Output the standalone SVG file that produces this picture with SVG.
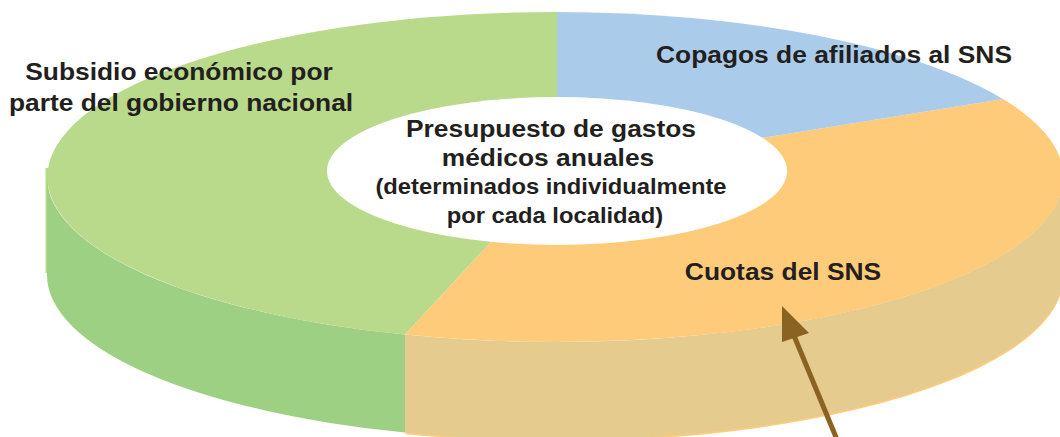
<svg xmlns="http://www.w3.org/2000/svg" width="1060" height="437" viewBox="0 0 1060 437">
  <style>
    .lbl { font-family: "Liberation Sans", Arial, Helvetica, sans-serif; font-weight: bold; fill: #231f20; text-anchor: middle; }
    .big { font-size: 24.2px; }
    .small { font-size: 21.8px; }
  </style>
  <rect width="1060" height="437" fill="#ffffff"/>

  <g id="slice-subsidio">
    <rect x="45.5" y="168" width="3" height="105" fill="#b9d98b"/>
    <path d="M47,177 L47,275 A508,165 0 0 0 405,432.6 L405,334.6 A508,165 0 0 1 47,177 Z" fill="#9dd083"/>
    <path d="M557,171 L557,12 A508,165 0 0 0 405,334.6 Z" fill="#b9d98b"/>
  </g>

  <g id="slice-cuotas">
    <path d="M405,334.6 L405,432.6 A508,165 0 0 0 1063,275 L1063,177 A508,165 0 0 1 405,334.6 Z" fill="#fecb7a" transform="translate(0.6,1.6)"/>
    <path d="M405,334.6 L405,432.6 A508,165 0 0 0 1063,275 L1063,177 A508,165 0 0 1 405,334.6 Z" fill="#e5cb8d"/>
    <path d="M557,171 L1003,99 A508,165 0 0 1 405,334.6 Z" fill="#fecb7a"/>
  </g>

  <g id="slice-copagos">
    <path d="M557,171 L557,12 A508,165 0 0 1 1003,99 Z" fill="#abcbea"/>
  </g>

  <g id="center">
    <ellipse cx="557" cy="171" rx="230" ry="74" fill="#ffffff"/>
    <text class="lbl big" transform="translate(551,136.7) scale(1.09,1)">Presupuesto de gastos</text>
    <text class="lbl big" transform="translate(548,165.5) scale(1.09,1)">médicos anuales</text>
    <text class="lbl small" transform="translate(551,194) scale(1.09,1)">(determinados individualmente</text>
    <text class="lbl small" transform="translate(555,223) scale(1.09,1)">por cada localidad)</text>
  </g>

  <g id="label-subsidio">
    <text class="lbl big" transform="translate(179,79.5) scale(1.09,1)">Subsidio económico por</text>
    <text class="lbl big" transform="translate(181,111.3) scale(1.09,1)">parte del gobierno nacional</text>
  </g>

  <g id="label-copagos">
    <text class="lbl big" transform="translate(834,62.5) scale(1.09,1)">Copagos de afiliados al SNS</text>
  </g>

  <g id="label-cuotas">
    <text class="lbl big" transform="translate(783,279.5) scale(1.09,1)">Cuotas del SNS</text>
  </g>

  <g id="connectors">
    <line x1="838" y1="442" x2="790" y2="326" stroke="#8a6323" stroke-width="5"/>
    <path d="M782,306 L809,333 L782,342 Z" fill="#8a6323"/>
  </g>
</svg>
